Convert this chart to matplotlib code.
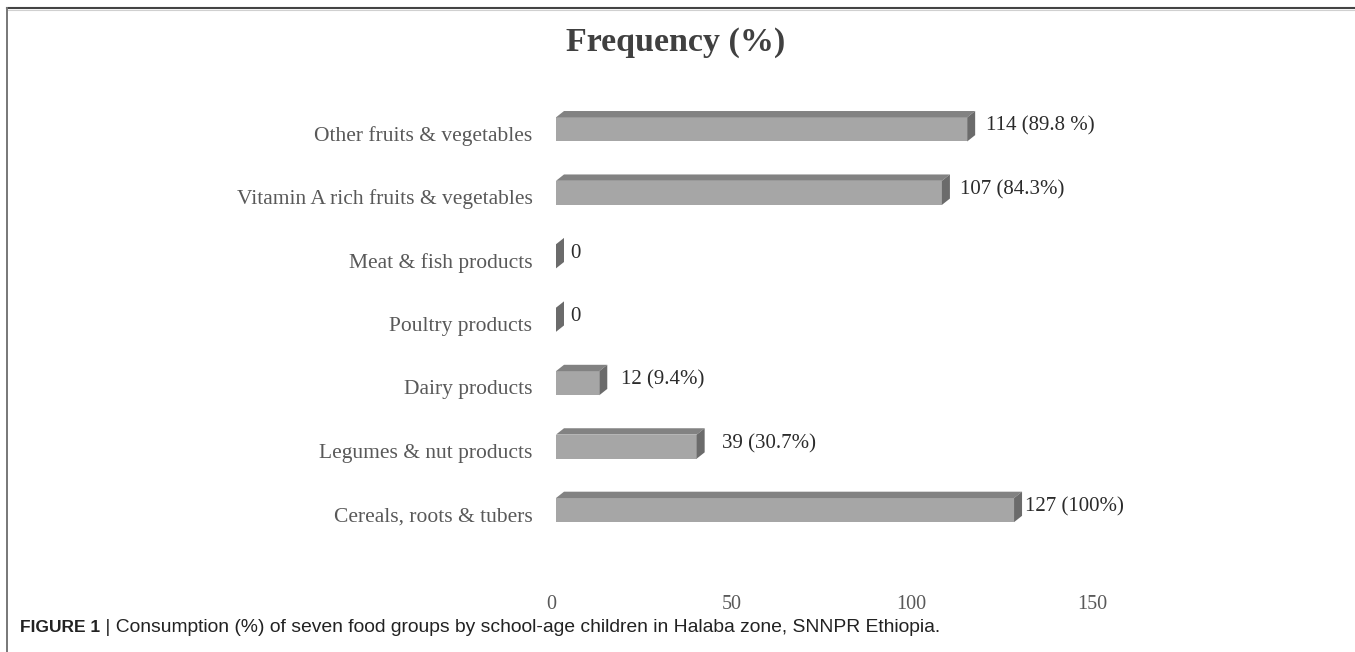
import matplotlib.pyplot as plt
import matplotlib.transforms as mtransforms
from matplotlib.patches import Polygon
from matplotlib.lines import Line2D

# data, bottom to top
categories = ["Cereals, roots & tubers", "Legumes & nut products", "Dairy products",
              "Poultry products", "Meat & fish products",
              "Vitamin A rich fruits & vegetables", "Other fruits & vegetables"]
counts = [127, 39, 12, 0, 0, 107, 114]
value_labels = ["127 (100%)", "39 (30.7%)", "12 (9.4%)", "0", "0", "107 (84.3%)", "114 (89.8 %)"]
xticks = [0, 50, 100, 150]

# gap (px) between bar end and its label, as placed in the original
label_gap_px = [3, 17, 14, 6, 6, 10, 11]

front = "#a6a6a6"
top_c = "#828282"
side_c = "#6b6b6b"
serif = "Liberation Serif"

fig = plt.figure(figsize=(13.55, 6.52), dpi=100)
W, H = 1355, 652
x0_px, x150_px = 556, 1097
yb_px, yt_px = 554.5, 85
ax = fig.add_axes([x0_px / W, 1 - yb_px / H, (x150_px - x0_px) / W, (yb_px - yt_px) / H])
ax.set_xlim(0, 150)
ax.set_ylim(-0.7, 6.7)

px_per_x = (x150_px - x0_px) / 150.0
bh = 0.38   # bar thickness
dx = 8 / px_per_x   # depth in x (data)
dy = 0.1            # depth in y (data)

ypos = list(range(len(categories)))
ax.barh(ypos, counts, height=bh, color=front, edgecolor="none", zorder=2)
for y, v, lab, g in zip(ypos, counts, value_labels, label_gap_px):
    y0, y1 = y - bh / 2, y + bh / 2
    # top face
    ax.add_patch(Polygon([(0, y1), (v, y1), (v + dx, y1 + dy), (dx, y1 + dy)],
                         closed=True, color=top_c, lw=0, zorder=2))
    # side face
    ax.add_patch(Polygon([(v, y0), (v + dx, y0 + dy), (v + dx, y1 + dy), (v, y1)],
                         closed=True, color=side_c, lw=0, zorder=2))
    ax.text(v + dx + g / px_per_x, y + 0.05, lab, ha="left", va="center",
            fontsize=15, family=serif, color="#2b2b2b")

ax.set_yticks(ypos)
ax.set_yticklabels(categories, family=serif, fontsize=15.5, color="#595959")
ax.set_xticks(xticks)
ax.set_xticklabels([str(t) for t in xticks], family=serif, fontsize=14.5, color="#595959")
ax.tick_params(axis="y", length=0, pad=17)
ax.tick_params(axis="x", length=0, pad=29)
shift_down = mtransforms.ScaledTranslation(0, -4 / 100, fig.dpi_scale_trans)
for t in ax.get_yticklabels():
    t.set_transform(t.get_transform() + shift_down)
shift_left = mtransforms.ScaledTranslation(-5 / 100, 0, fig.dpi_scale_trans)
for t in ax.get_xticklabels():
    t.set_transform(t.get_transform() + shift_left)
for s in ax.spines.values():
    s.set_visible(False)

fig.text(676 / W, 1 - 42 / H, "Frequency (%)", ha="center", va="center",
         fontsize=24.5, fontweight="bold", family=serif, color="#404040")

# frame lines of the figure box
fig.add_artist(Line2D([7.5 / W, 1], [1 - 8 / H, 1 - 8 / H], color="#444444", lw=1.5))
fig.add_artist(Line2D([7.5 / W, 1], [1 - 10 / H, 1 - 10 / H], color="#d0d0d0", lw=0.8))
fig.add_artist(Line2D([7.5 / W, 7.5 / W], [0, 1 - 8 / H], color="#777777", lw=1.4))

# caption
cap_y = 1 - 628 / H
t1 = fig.text(20 / W, cap_y, "FIGURE 1", ha="left", va="center", fontsize=12.5,
              fontweight="bold", family="Liberation Sans", color="#222222")
r = fig.canvas.get_renderer()
bb = t1.get_window_extent(renderer=r)
fig.text(bb.x1 / W, cap_y,
         " | Consumption (%) of seven food groups by school-age children in Halaba zone, SNNPR Ethiopia.",
         ha="left", va="center", fontsize=13.9, family="Liberation Sans", color="#222222")

fig.savefig("out.png", dpi=100)
